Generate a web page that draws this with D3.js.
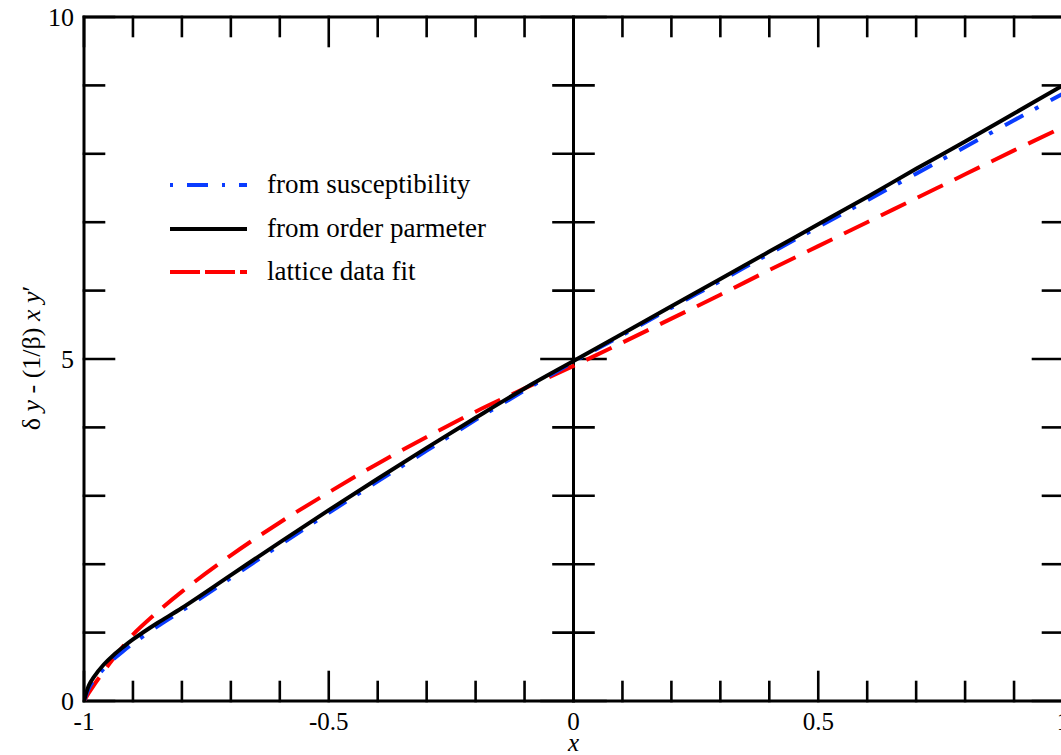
<!DOCTYPE html>
<html>
<head>
<meta charset="utf-8">
<script src="https://cdn.jsdelivr.net/npm/d3@7"></script>
<style>
  body { margin: 0; background: #fff; }
  svg { display: block; }
  text { font-family: "Liberation Serif", "Times New Roman", serif; fill: #000; }
</style>
</head>
<body>
<svg id="chart" width="1061" height="755"></svg>
<script>
// Scaling variable x and the combination  δ y - (1/β) x y'  for the three determinations
const xs = [-1, -0.99, -0.98, -0.96, -0.94, -0.92, -0.9, -0.85, -0.8, -0.7, -0.6, -0.5, -0.4,
            -0.3, -0.2, -0.1, 0, 0.1, 0.2, 0.3, 0.4, 0.5, 0.6, 0.7, 0.8, 0.9, 1.0];
const susceptibility = [0, 0.19, 0.3, 0.47, 0.61, 0.73, 0.84, 1.09, 1.32, 1.8, 2.28, 2.75, 3.21,
                        3.66, 4.11, 4.54, 4.96, 5.35, 5.75, 6.14, 6.54, 6.93, 7.32, 7.71, 8.1, 8.49, 8.88];
const orderParameter = [0, 0.23, 0.35, 0.53, 0.67, 0.79, 0.9, 1.14, 1.36, 1.84, 2.32, 2.79, 3.25,
                        3.7, 4.14, 4.57, 4.97, 5.37, 5.77, 6.17, 6.57, 6.97, 7.37, 7.78, 8.18, 8.59, 9.0];
const latticeFit = [0, 0.12, 0.23, 0.43, 0.62, 0.8, 0.97, 1.3, 1.6, 2.13, 2.61, 3.05, 3.47,
                    3.86, 4.23, 4.57, 4.9, 5.24, 5.59, 5.94, 6.3, 6.65, 7.0, 7.35, 7.7, 8.05, 8.39];

const seriesNames = ["from susceptibility", "from order parmeter", "lattice data fit"];

const xMajorTicks = [-1, -0.5, 0, 0.5, 1];
const xTickLabels = ["-1", "-0.5", "0", "0.5", "1"];
const xMinorTicks = [-0.9, -0.8, -0.7, -0.6, -0.4, -0.3, -0.2, -0.1, 0.1, 0.2, 0.3, 0.4, 0.6, 0.7, 0.8, 0.9];
const yMajorTicks = [0, 5, 10];
const yTickLabels = ["0", "5", "10"];
const yMinorTicks = [1, 2, 3, 4, 6, 7, 8, 9];

const svg = d3.select("#chart");
const x = d3.scaleLinear().domain([-1, 1]).range([84, 1063]);
const y = d3.scaleLinear().domain([0, 10]).range([701, 17]);
const [x0, x1] = x.range();
const [y0, y1] = y.range();

const axisG = svg.append("g").attr("stroke", "#000").attr("stroke-linecap", "square");

// frame
axisG.append("rect")
  .attr("x", x0).attr("y", y1).attr("width", x1 - x0).attr("height", y0 - y1)
  .attr("fill", "none").attr("stroke-width", 3);

// zero line at x = 0
axisG.append("line")
  .attr("x1", x(0)).attr("x2", x(0)).attr("y1", y1).attr("y2", y0)
  .attr("stroke-width", 3);

function xTicks(vals, len) {
  axisG.selectAll(null).data(vals).join("line")
    .attr("x1", d => x(d)).attr("x2", d => x(d))
    .attr("y1", y0).attr("y2", y0 - len).attr("stroke-width", 2.6);
  axisG.selectAll(null).data(vals).join("line")
    .attr("x1", d => x(d)).attr("x2", d => x(d))
    .attr("y1", y1).attr("y2", y1 + len).attr("stroke-width", 2.6);
}
function yTicks(vals, len, midLen) {
  axisG.selectAll(null).data(vals).join("line")
    .attr("x1", x0).attr("x2", x0 + len)
    .attr("y1", d => y(d)).attr("y2", d => y(d)).attr("stroke-width", 2.6);
  axisG.selectAll(null).data(vals).join("line")
    .attr("x1", x1).attr("x2", x1 - len)
    .attr("y1", d => y(d)).attr("y2", d => y(d)).attr("stroke-width", 2.6);
  axisG.selectAll(null).data(vals).join("line")
    .attr("x1", x(0) - midLen).attr("x2", x(0) + midLen)
    .attr("y1", d => y(d)).attr("y2", d => y(d)).attr("stroke-width", 2.6);
}
xTicks(xMinorTicks, 19);
xTicks(xMajorTicks.filter(d => d !== 0), 29);
yTicks(yMinorTicks, 20, 20);
yTicks(yMajorTicks, 30, 32);

// tick labels
svg.append("g").selectAll("text").data(xMajorTicks).join("text")
  .attr("x", d => x(d)).attr("y", 730)
  .attr("text-anchor", "middle").attr("font-size", 25)
  .text((d, i) => xTickLabels[i]);

svg.append("g").selectAll("text").data(yMajorTicks).join("text")
  .attr("x", 74).attr("y", d => y(d) + 9)
  .attr("text-anchor", "end").attr("font-size", 26)
  .text((d, i) => yTickLabels[i]);

// axis titles
svg.append("text")
  .attr("x", x(0)).attr("y", 751)
  .attr("text-anchor", "middle").attr("font-size", 25).attr("font-style", "italic")
  .text("x");

const yTitle = svg.append("text")
  .attr("transform", "translate(40,358) rotate(-90)")
  .attr("text-anchor", "middle").attr("font-size", 26);
yTitle.append("tspan").text("δ ");
yTitle.append("tspan").attr("font-style", "italic").text("y");
yTitle.append("tspan").text(" - (1/β) ");
yTitle.append("tspan").attr("font-style", "italic").text("x");
yTitle.append("tspan").text(" ");
yTitle.append("tspan").attr("font-style", "italic").text("y");
yTitle.append("tspan").text("′");

// curves
svg.append("clipPath").attr("id", "plotClip")
  .append("rect").attr("x", x0).attr("y", y1).attr("width", x1 - x0).attr("height", y0 - y1);

const series = [
  { name: seriesNames[0], values: susceptibility, color: "#0a3cff", dash: "21,13,4,14", legendDash: "3,14,21,14" },
  { name: seriesNames[1], values: orderParameter, color: "#000000", dash: null, legendDash: null },
  { name: seriesNames[2], values: latticeFit, color: "#ff0000", dash: "28,13", legendDash: "30,5" }
];

const line = d3.line()
  .x(d => x(d[0])).y(d => y(d[1]))
  .curve(d3.curveCatmullRom.alpha(0.5));

const drawOrder = [2, 0, 1];
svg.append("g").attr("clip-path", "url(#plotClip)")
  .selectAll("path").data(drawOrder.map(i => series[i])).join("path")
  .attr("d", s => line(xs.map((v, i) => [v, s.values[i]])))
  .attr("fill", "none")
  .attr("stroke", s => s.color)
  .attr("stroke-width", 4)
  .attr("stroke-dasharray", s => s.dash);

// legend
const legend = svg.append("g");
const legendY = [185, 229, 272];
const items = legend.selectAll("g").data(series).join("g")
  .attr("transform", (d, i) => `translate(0,${legendY[i]})`);
items.append("line")
  .attr("x1", 170).attr("x2", 247).attr("y1", 0).attr("y2", 0)
  .attr("stroke", d => d.color).attr("stroke-width", 4)
  .attr("stroke-dasharray", d => d.legendDash);
items.append("text")
  .attr("x", 267).attr("y", 8)
  .attr("font-size", 27)
  .text(d => d.name);
</script>
</body>
</html>
